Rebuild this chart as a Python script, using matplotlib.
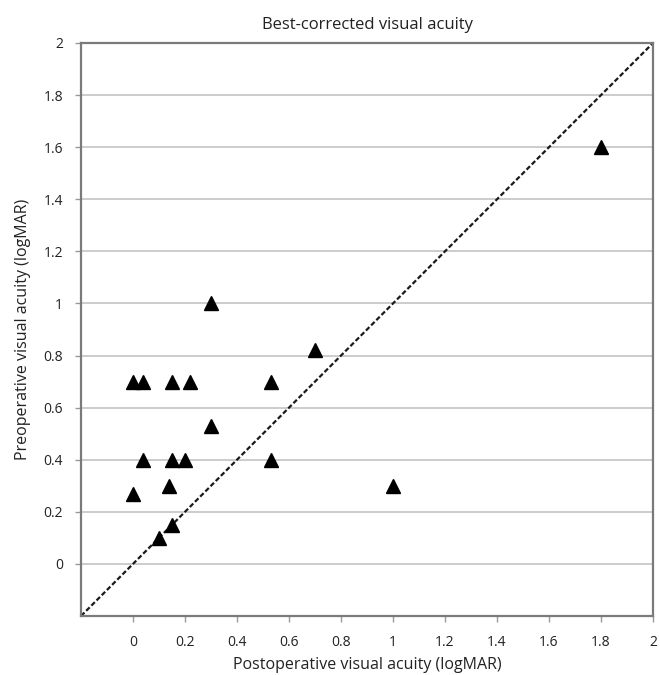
import matplotlib
matplotlib.use("Agg")
import matplotlib.pyplot as plt
import numpy as np

plt.rcParams['font.family'] = ['Open Sans', 'DejaVu Sans']

postop = [0, 0.04, 0.15, 0.22, 0.53, 0.30, 0.70, 0.30, 0.04, 0.15, 0.20, 0.53, 0.0, 0.14, 0.15, 0.10, 1.0, 1.8]
preop  = [0.7, 0.7, 0.7, 0.7, 0.7, 1.0, 0.82, 0.53, 0.4, 0.4, 0.4, 0.4, 0.27, 0.3, 0.15, 0.1, 0.3, 1.6]
ticks = [0, 0.2, 0.4, 0.6, 0.8, 1, 1.2, 1.4, 1.6, 1.8, 2]
tick_labels = ["0", "0.2", "0.4", "0.6", "0.8", "1", "1.2", "1.4", "1.6", "1.8", "2"]

fig = plt.figure(figsize=(6.6, 6.75), dpi=100)
ax = fig.add_axes([81/660, 1-616/675, (653-81)/660, (616-43)/675])
ax.set_xlim(-0.2, 2)
ax.set_ylim(-0.2, 2)

for t in ticks:
    ax.axhline(t, color='#c4c4c4', lw=1.2, zorder=1)

ax.plot([-0.2, 2], [-0.2, 2], color='#1a1a1a', lw=1.6, ls=(0, (2.2, 1.1)), zorder=2)
ax.plot(postop, preop, ls='none', marker='^', color='black', markersize=9.5, zorder=3)

ax.set_xticks(ticks)
ax.set_xticklabels(tick_labels)
ax.set_yticks(ticks)
ax.set_yticklabels(tick_labels)
ax.tick_params(axis='both', colors='#999999', labelcolor='#222222', labelsize=10, length=4, width=1)
ax.tick_params(axis='x', pad=10)
ax.tick_params(axis='y', pad=9)

for side in ['left', 'bottom', 'right', 'top']:
    ax.spines[side].set_color('#7a7a7a')
    ax.spines[side].set_linewidth(1.6)

ax.set_title("Best-corrected visual acuity", fontsize=12, color='#222222', pad=10)
ax.set_xlabel("Postoperative visual acuity (logMAR)", fontsize=11.5, color='#222222', labelpad=5)
ax.set_ylabel("Preoperative visual acuity (logMAR)", fontsize=11.5, color='#222222', labelpad=9)

fig.savefig("out.png", dpi=100)
